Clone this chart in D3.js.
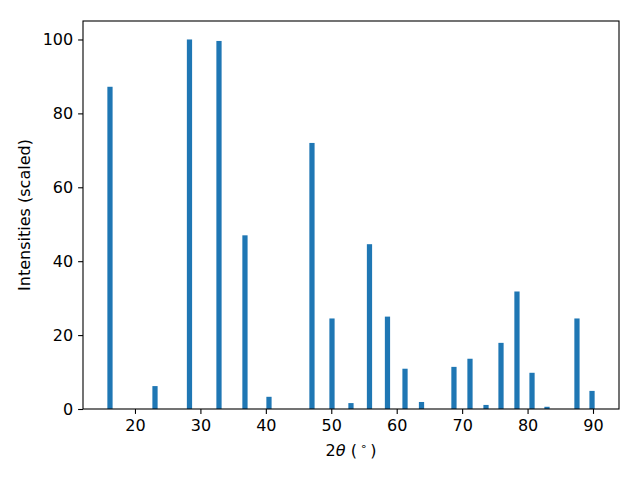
<!DOCTYPE html>
<html><head><meta charset="utf-8">
<script src="https://cdn.jsdelivr.net/npm/d3@7"></script>
<style>body{margin:0;background:#fff}svg{display:block}text{font-family:"DejaVu Sans",sans-serif}</style>
</head><body>
<svg id="c" width="640" height="480"></svg>
<script>
const twoTheta = [16.18, 23.06, 28.33, 32.84, 36.81, 40.48, 47.05, 50.11, 53.01, 55.84, 58.59, 61.27, 63.79, 68.75, 71.2, 73.65, 75.94, 78.38, 80.68, 82.97, 87.55, 89.85];
const intensity = [87.2, 6.2, 100, 99.6, 47.0, 3.3, 72.0, 24.5, 1.6, 44.6, 25.0, 10.9, 1.9, 11.4, 13.6, 1.1, 17.9, 31.8, 9.8, 0.6, 24.5, 4.9];
const xTicks = [20, 30, 40, 50, 60, 70, 80, 90];
const yTicks = [0, 20, 40, 60, 80, 100];
const barWidth = 0.8;

const svg = d3.select("#c");
const L = 83, R = 619, T = 21, B = 409;
const lo = d3.min(twoTheta) - barWidth/2, hi = d3.max(twoTheta) + barWidth/2;
const pad = (hi - lo) * 0.05;
const x = d3.scaleLinear().domain([lo - pad, hi + pad]).range([L, R]);
const y = d3.scaleLinear().domain([0, 105]).range([B, T]);

svg.append("g").selectAll("rect").data(twoTheta).join("rect")
  .attr("x", (d) => x(d - barWidth/2))
  .attr("width", (d) => x(d + barWidth/2) - x(d - barWidth/2))
  .attr("y", (d, i) => y(intensity[i]))
  .attr("height", (d, i) => y(0) - y(intensity[i]))
  .attr("fill", "#1f77b4");

const xa = svg.append("g").attr("transform", `translate(0,${B})`)
  .call(d3.axisBottom(x).tickValues(xTicks).tickSize(4.9).tickPadding(5.8).tickFormat(d3.format("d")));
const ya = svg.append("g").attr("transform", `translate(${L},0)`)
  .call(d3.axisLeft(y).tickValues(yTicks).tickSize(4.9).tickPadding(4.9).tickFormat(d3.format("d")));
[xa, ya].forEach(a => {
  a.select(".domain").remove();
  a.selectAll("line").attr("stroke", "#000").attr("stroke-width", 1.1);
  a.selectAll("text").attr("font-size", 16).attr("font-family", "DejaVu Sans").attr("fill", "#000");
});

svg.append("rect").attr("x", L).attr("y", T).attr("width", R - L).attr("height", B - T)
  .attr("fill", "none").attr("stroke", "#000").attr("stroke-width", 1.1);

const xl = svg.append("text").attr("x", (L + R) / 2).attr("y", 456)
  .attr("text-anchor", "middle").attr("font-size", 16).attr("fill", "#000");
xl.append("tspan").text("2");
xl.append("tspan").attr("font-style", "italic").text("θ");
xl.append("tspan").text(" (\u2009");
xl.append("tspan").attr("font-size", 11).attr("dy", -6).text("∘");
xl.append("tspan").attr("dy", 6).text("\u2009)");

svg.append("text").attr("transform", `translate(30,${(T + B) / 2}) rotate(-90)`)
  .attr("text-anchor", "middle").attr("font-size", 16).attr("fill", "#000")
  .text("Intensities (scaled)");
</script>
</body></html>
